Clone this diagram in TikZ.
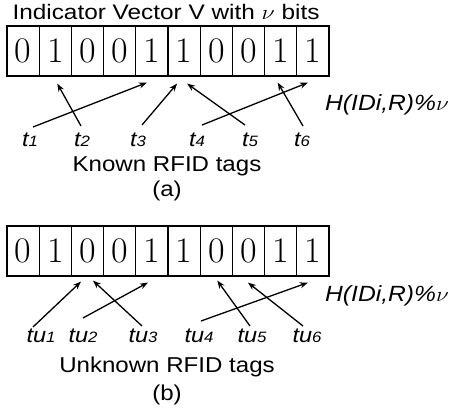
\documentclass[tikz,border=0pt]{standalone}
\usepackage{fontspec}
\usepackage{graphicx}
\usetikzlibrary{arrows.meta,calc}
\newfontfamily\labsans{Liberation Sans}
\newcommand\widetext[1]{\scalebox{1.12}[1]{#1}}
\newcommand\tg[2]{\widetext{\itshape #1{\fontsize{15}{15}\selectfont #2}}}
\begin{document}
\begin{tikzpicture}[x=1pt,y=-1pt,
  cell/.style={draw,line width=1.2pt,minimum width=32.2pt,minimum height=50pt,inner sep=0pt,font=\fontsize{36}{36}\selectfont},
  tagarrow/.style={line width=1.3pt,-{Stealth[length=8pt,width=6pt]}},
  taglab/.style={anchor=base,inner sep=0pt,font=\labsans\fontsize{21}{21}\selectfont},
  captext/.style={anchor=base,inner sep=0pt,font=\labsans\fontsize{21.5}{21.5}\selectfont},
  hlab/.style={anchor=base west,inner sep=0pt,font=\labsans\itshape\fontsize{22}{22}\selectfont}]
\useasboundingbox (0,0) rectangle (453,413);
% title
\node[anchor=base,inner sep=0pt,font=\labsans\fontsize{21}{21}\selectfont] (title) at (166,19) {\scalebox{1.16}[1]{Indicator Vector V with $\nu$ bits}};
% rows
\foreach \v [count=\i from 0] in {0,1,0,0,1,1,0,0,1,1}
  \node[cell] (a\i) at (23.1+32.2*\i,51) {\v};
\foreach \v [count=\i from 0] in {0,1,0,0,1,1,0,0,1,1}
  \node[cell] (b\i) at (23.1+32.2*\i,251) {\v};
% panel (a) labels
\node[taglab] (lt1) at (30,146) {\tg{t}{1}};
\node[taglab] (lt2) at (82,146) {\tg{t}{2}};
\node[taglab] (lt3) at (138,146) {\tg{t}{3}};
\node[taglab] (lt4) at (197,146) {\tg{t}{4}};
\node[taglab] (lt5) at (250,146) {\tg{t}{5}};
\node[taglab] (lt6) at (302,146) {\tg{t}{6}};
% tails (a)
\coordinate (ta1) at (33,127);
\coordinate (ta2) at (81,126);
\coordinate (ta3) at (142,125);
\coordinate (ta4) at (202,125);
\coordinate (ta5) at (245,125);
\coordinate (ta6) at (303,126);
\draw[tagarrow] (ta1) -- ($(a4.south)+(-5,6)$);
\draw[tagarrow] (ta2) -- ($(a1.south)+(2,7)$);
\draw[tagarrow] (ta3) -- ($(a5.south)+(-7,7)$);
\draw[tagarrow] (ta4) -- ($(a9.south)+(-5,6)$);
\draw[tagarrow] (ta5) -- ($(a5.south)+(3,7)$);
\draw[tagarrow] (ta6) -- ($(a8.south)+(-3,6)$);
\node[hlab] (ha) at (325,110) {\widetext{H(IDi,R)\%$\nu$}};
\node[captext] (ka) at (167,171) {\widetext{Known RFID tags}};
\node[captext] (pa) at (167,196) {\widetext{(a)}};
% panel (b) labels
\node[taglab] (lu1) at (41,342) {\tg{tu}{1}};
\node[taglab] (lu2) at (83,342) {\tg{tu}{2}};
\node[taglab] (lu3) at (143,342) {\tg{tu}{3}};
\node[taglab] (lu4) at (199,342) {\tg{tu}{4}};
\node[taglab] (lu5) at (252,342) {\tg{tu}{5}};
\node[taglab] (lu6) at (307,342) {\tg{tu}{6}};
\coordinate (tb1) at (33,327);
\coordinate (tb2) at (83,318);
\coordinate (tb3) at (142,326);
\coordinate (tb4) at (201,321);
\coordinate (tb5) at (250,326);
\coordinate (tb6) at (303,326);
\draw[tagarrow] (tb1) -- ($(b2.south)+(-6.5,5)$);
\draw[tagarrow] (tb2) -- ($(b4.south)+(-4,6)$);
\draw[tagarrow] (tb3) -- ($(b2.south)+(5.5,4)$);
\draw[tagarrow] (tb4) -- ($(b9.south)+(-5,6)$);
\draw[tagarrow] (tb5) -- ($(b6.south)+(1,4)$);
\draw[tagarrow] (tb6) -- ($(b7.south)+(-0.5,6)$);
\node[hlab] (hb) at (325,301) {\widetext{H(IDi,R)\%$\nu$}};
\node[captext] (kb) at (167,372) {\widetext{Unknown RFID tags}};
\node[captext] (pb) at (167,400) {\widetext{(b)}};
\end{tikzpicture}
\end{document}
